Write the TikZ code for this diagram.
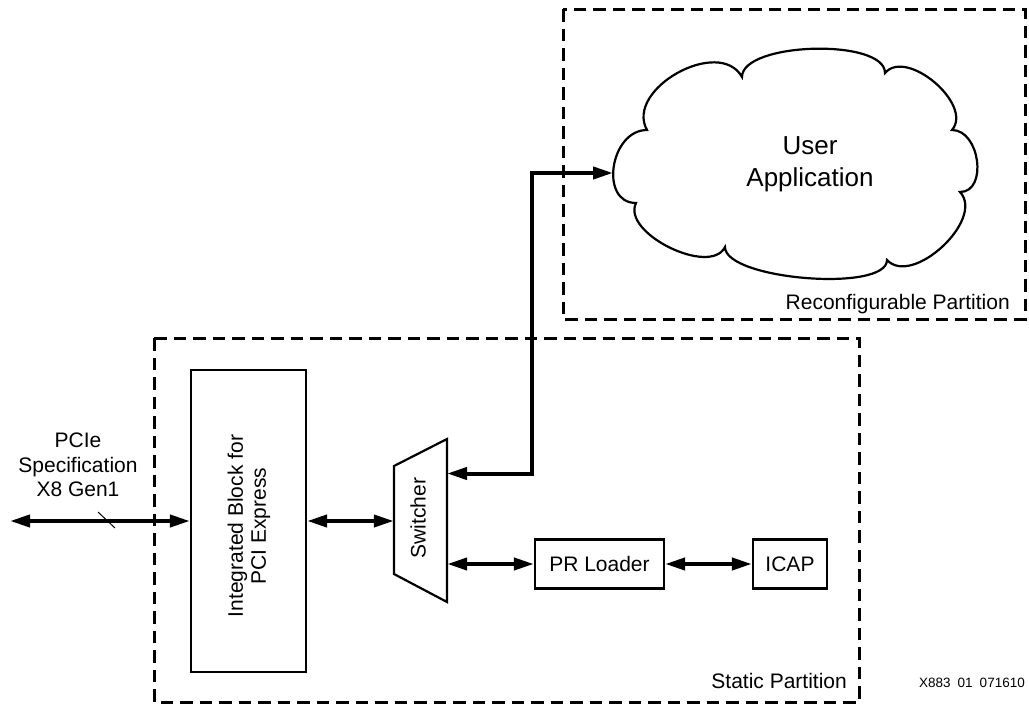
\documentclass[tikz,border=0pt]{standalone}
\usepackage{fontspec}
\setmainfont{Liberation Sans}
\usetikzlibrary{arrows.meta,calc}
\tikzset{
  dashbox/.style={draw, line width=3pt, dash pattern=on 12.5pt off 7pt},
  blk/.style={draw, line width=2.2pt, inner sep=0pt},
  biarrow/.style={line width=4pt, {Triangle[length=20pt,width=12pt]}-{Triangle[length=20pt,width=12pt]}},
  lbl/.style={font=\fontsize{21}{24.5}\selectfont, inner sep=0pt},
}
\begin{document}
\begin{tikzpicture}[x=1pt,y=-1pt]
\useasboundingbox (0,0) rectangle (1029,704);
% partitions
\draw[dashbox] (563,9) rectangle (1025,319);
\draw[dashbox] (154,338) rectangle (859,702);
\node[lbl, anchor=base east] (rplbl) at (1010,309) {Reconfigurable Partition};
\node[lbl, anchor=base east] (splbl) at (847,688) {Static Partition};
\node[inner sep=0pt, anchor=base east, font=\fontsize{13.5}{16}\selectfont] (id) at (1025,687) {X883\hspace{7pt}01\hspace{7pt}071610};
% cloud
\draw[line width=2.2pt] (636,203)
 .. controls (599,203) and (610,130) .. (647,130)
 .. controls (624.3,89.2) and (719.3,36.2) .. (742,77)
 .. controls (742,42) and (885,38) .. (885,73)
 .. controls (906.6,47.6) and (973.6,104.6) .. (952,130)
 .. controls (980,130) and (988,192) .. (960,192)
 .. controls (985.4,219.3) and (912.4,287.3) .. (887,260)
 .. controls (887,292.7) and (725,279.7) .. (725,247)
 .. controls (710.2,276.9) and (621.2,232.9) .. (636,203) -- cycle;
\node[lbl, align=center, font=\fontsize{26}{32}\selectfont] (ua) at (810,164.5) {User\\Application};
\coordinate (cloudL) at (613,173);
% integrated block
\node[blk, minimum width=115pt, minimum height=302pt] (ib) at (248.5,521) {};
\node[lbl, align=center, rotate=90, font=\fontsize{21}{23}\selectfont] (ibt) at (249,526) {Integrated Block for\\PCI Express};
% switcher
\node[inner sep=0pt, minimum width=53pt, minimum height=163pt] (sw) at (420.5,520.5) {};
\draw[line width=2.2pt, line join=miter] (394,466) -- (447,439) -- (447,602) -- (394,574) -- cycle;
\node[lbl, rotate=90] (swt) at (418,518) {Switcher};
% PR loader, ICAP
\node[blk, minimum width=129pt, minimum height=49pt, font=\fontsize{21}{24}\selectfont] (pr) at (599.5,564) {PR Loader};
\node[blk, minimum width=74pt, minimum height=49pt, font=\fontsize{21}{24}\selectfont] (icap) at (790,564) {ICAP};
% PCIe label and bus
\node[lbl, align=center] (pcie) at (78,465) {PCIe\\Specification\\X8 Gen1};
\coordinate (pcieL) at (10,521);
\draw[biarrow] (pcieL) -- (ib.west);
\draw[line width=1pt] (98,512) -- (115,528);
% connectors
\draw[biarrow] (ib.east) -- (ib.east -| sw.west);
\coordinate (swtop) at (447,473.5);
\draw[biarrow, line join=miter] (swtop) -- (532,473.5) |- (cloudL);
\draw[biarrow] (pr.west -| sw.east) -- (pr.west);
\draw[biarrow] (pr.east) -- (icap.west);
\end{tikzpicture}
\end{document}
